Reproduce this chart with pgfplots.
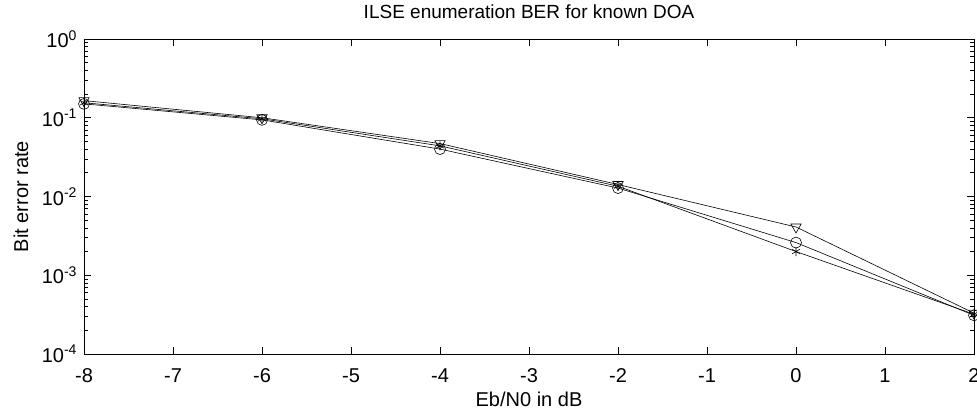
\documentclass[border=0pt]{standalone}
\usepackage{fontspec}
\setmainfont{Liberation Sans}
\usepackage{pgfplots}
\pgfplotsset{compat=1.18}

\begin{document}
\begin{tikzpicture}
    \begin{axis}[
        scale only axis,
        width  = 890bp,
        height = 315bp,
        ymode = log,
        xmin = -8, xmax = 2,
        ymin = 1e-4, ymax = 1,
        xtick = {-8,-7,...,2},
        ytick = {1e-4,1e-3,1e-2,1e-1,1},
        yticklabels = {10\textsuperscript{-4},10\textsuperscript{-3},10\textsuperscript{-2},10\textsuperscript{-1},10\textsuperscript{0}},
        tick align = inside,
        major tick length = 7bp,
        minor tick length = 4bp,
        tick style = {black, line width=0.6bp},
        axis line style = {line width=0.9bp},
        every tick label/.append style = {font=\fontsize{20bp}{22bp}\selectfont, black},
        x tick label style = {/pgf/number format/assume math mode=true, anchor=base, yshift=-28bp},
        y tick label style = {xshift=-3.5bp},
        title = {ILSE enumeration BER for known DOA},
        title style = {font=\fontsize{19bp}{21bp}\selectfont, at={(axis description cs:0.5,1.045)}, anchor=base},
        xlabel = {Eb/N0 in dB},
        ylabel = {Bit error rate},
        label style = {font=\fontsize{20bp}{22bp}\selectfont},
        xlabel style = {at={(axis description cs:0.5,-0.168)}, anchor=base},
        ylabel style = {at={(axis description cs:-0.0629,0.5)}, anchor=base},
        every axis plot/.append style = {black, line width=0.6bp, mark size=6bp,
            mark options={solid, fill=none, line width=0.6bp}},
        clip = false,
    ]
        % circle
        \addplot[mark=o, mark size=5.5bp] coordinates {
            (-8, 0.150)
            (-6, 0.094)
            (-4, 0.040)
            (-2, 0.0128)
            (0,  0.0026)
            (2,  0.00031)
        };
        % star
        \addplot[mark=asterisk, mark size=4.5bp] coordinates {
            (-8, 0.155)
            (-6, 0.097)
            (-4, 0.044)
            (-2, 0.0135)
            (0,  0.0020)
            (2,  0.00032)
        };
        % triangle down
        \addplot[mark=triangle, mark options={rotate=180}] coordinates {
            (-8, 0.165)
            (-6, 0.100)
            (-4, 0.047)
            (-2, 0.0142)
            (0,  0.0041)
            (2,  0.00033)
        };
    \end{axis}
    \pgfresetboundingbox
    \useasboundingbox ([shift={(-84bp,-58bp)}]current axis.south west) rectangle ([shift={(3bp,39bp)}]current axis.north east);
\end{tikzpicture}
\end{document}
